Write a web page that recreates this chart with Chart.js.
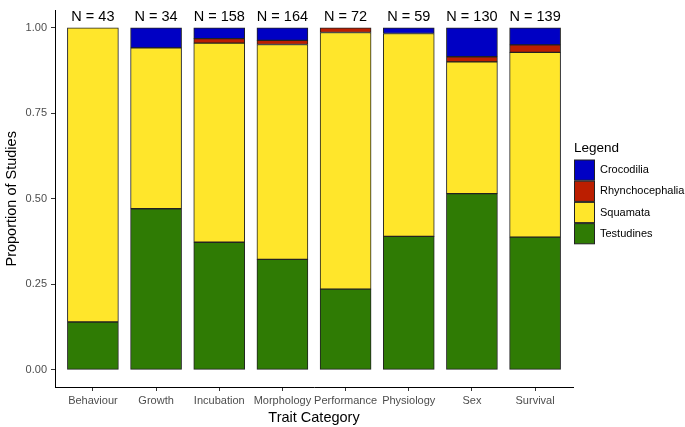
<!DOCTYPE html>
<html>
<head>
<meta charset="utf-8">
<script src="https://cdn.jsdelivr.net/npm/chart.js@4"></script>
<style>
    html, body { margin: 0; padding: 0; background: #fff; }
    #wrap { width: 685px; height: 427px; }
</style>
</head>
<body>
<div id="wrap"><canvas id="chart" width="685" height="427"></canvas></div>
<script>
const categories = ["Behaviour", "Growth", "Incubation", "Morphology", "Performance", "Physiology", "Sex", "Survival"];
const sampleSizes = [43, 34, 158, 164, 72, 59, 130, 139];

// proportions (bottom to top)
const testudines      = [0.140, 0.471, 0.373, 0.323, 0.236, 0.390, 0.515, 0.388];
const squamata        = [0.860, 0.470, 0.582, 0.628, 0.750, 0.593, 0.385, 0.540];
const rhynchocephalia = [0.000, 0.000, 0.013, 0.012, 0.014, 0.000, 0.015, 0.022];
const crocodilia      = [0.000, 0.059, 0.032, 0.037, 0.000, 0.017, 0.085, 0.050];

const yTicks = [0, 0.25, 0.5, 0.75, 1];

const FONT = "'Liberation Sans', Arial, Helvetica, sans-serif";

function toPoints(values) {
    return values.map((v, i) => ({ x: i, y: v }));
}

const series = [
    { label: "Testudines", data: testudines, color: "#2f7b04" },
    { label: "Squamata", data: squamata, color: "#ffe62b" },
    { label: "Rhynchocephalia", data: rhynchocephalia, color: "#bb1e00" },
    { label: "Crocodilia", data: crocodilia, color: "#0000c4" }
];

// N = ... labels above each bar
const nLabelPlugin = {
    id: "nLabels",
    afterDatasetsDraw(chart) {
        const ctx = chart.ctx;
        const xs = chart.scales.x;
        const ys = chart.scales.y;
        ctx.save();
        ctx.font = "14.5px " + FONT;
        ctx.fillStyle = "#000";
        ctx.textAlign = "center";
        ctx.textBaseline = "middle";
        sampleSizes.forEach((n, i) => {
            ctx.fillText("N = " + n, xs.getPixelForValue(i), ys.getPixelForValue(1.03));
        });
        ctx.restore();
    }
};

// ggplot style legend on the right
const legendPlugin = {
    id: "sideLegend",
    afterDraw(chart) {
        const ctx = chart.ctx;
        const left = chart.chartArea.right + 1;
        const top = 159.5;
        const key = 21.2;
        ctx.save();
        ctx.fillStyle = "#000";
        ctx.font = "13.5px " + FONT;
        ctx.textAlign = "left";
        ctx.textBaseline = "middle";
        ctx.fillText("Legend", left, 148);
        ctx.font = "11px " + FONT;
        const items = series.slice().reverse();
        items.forEach((s, i) => {
            const y = top + i * key;
            ctx.fillStyle = s.color;
            ctx.fillRect(left + 0.5, y + 0.5, 20, key - 1);
            ctx.strokeStyle = "#222";
            ctx.lineWidth = 1;
            ctx.strokeRect(left + 0.5, y + 0.5, 20, key - 1);
            ctx.fillStyle = "#000";
            ctx.fillText(s.label, left + 26, y + key / 2);
        });
        ctx.restore();
    }
};

const ctx = document.getElementById("chart").getContext("2d");

new Chart(ctx, {
    type: "bar",
    data: {
        datasets: series.map(s => ({
            label: s.label,
            data: toPoints(s.data),
            backgroundColor: s.color,
            borderColor: "#222",
            borderWidth: 1,
            borderSkipped: false,
            barThickness: 51
        }))
    },
    options: {
        responsive: false,
        animation: false,
        devicePixelRatio: 1,
        layout: { padding: { top: 0, right: 112, bottom: 0, left: 0 } },
        plugins: {
            legend: { display: false },
            tooltip: { enabled: false }
        },
        scales: {
            x: {
                type: "linear",
                stacked: true,
                offset: false,
                min: -0.6,
                max: 7.6,
                afterBuildTicks: scale => {
                    scale.ticks = categories.map((c, i) => ({ value: i }));
                },
                afterFit: scale => { scale.height = 40; },
                ticks: {
                    autoSkip: false,
                    maxRotation: 0,
                    padding: 3,
                    color: "#4d4d4d",
                    font: { family: FONT, size: 11 },
                    callback: v => categories[v]
                },
                grid: { offset: false, drawOnChartArea: false, tickLength: 4, color: "#333" },
                border: { display: true, color: "#000", width: 1 },
                title: {
                    display: true,
                    text: "Trait Category",
                    color: "#000",
                    font: { family: FONT, size: 14.5 },
                    padding: { top: 6, bottom: 0 }
                }
            },
            y: {
                stacked: true,
                min: -0.05,
                max: 1.05,
                afterBuildTicks: scale => {
                    scale.ticks = yTicks.map(v => ({ value: v }));
                },
                afterFit: scale => { scale.width = 55; },
                ticks: {
                    padding: 4,
                    color: "#4d4d4d",
                    font: { family: FONT, size: 11 },
                    callback: v => v.toFixed(2)
                },
                grid: { drawOnChartArea: false, tickLength: 4, color: "#333" },
                border: { display: true, color: "#000", width: 1 },
                title: {
                    display: true,
                    text: "Proportion of Studies",
                    color: "#000",
                    font: { family: FONT, size: 14.5 },
                    padding: { top: 3, bottom: 0 }
                }
            }
        }
    },
    plugins: [nLabelPlugin, legendPlugin]
});
</script>
</body>
</html>
